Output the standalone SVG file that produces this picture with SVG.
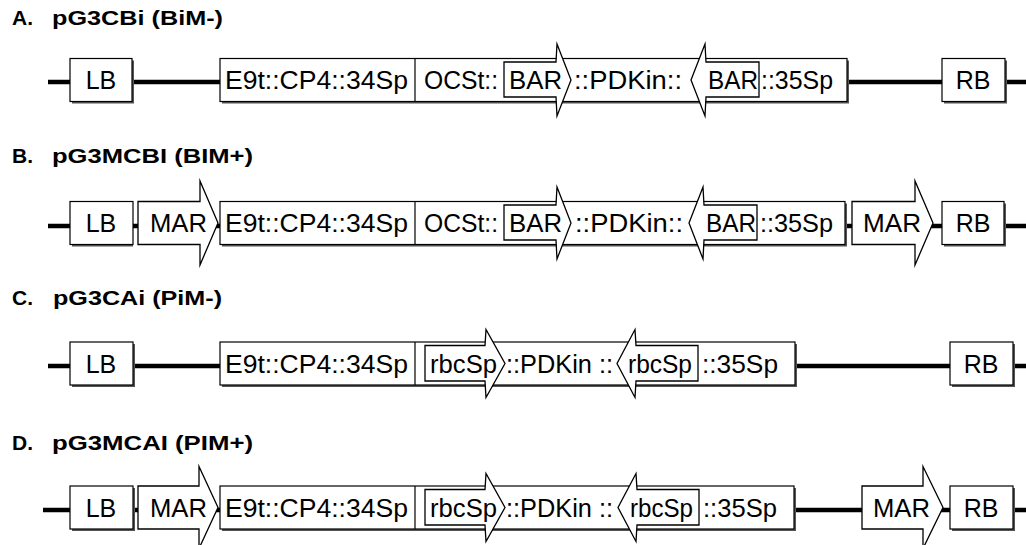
<svg xmlns="http://www.w3.org/2000/svg" width="1026" height="545" viewBox="0 0 1026 545">
<style>
.bg{fill:#fff}
.box{fill:#fff;stroke:#000;stroke-width:1.2}
.sh{fill:#555}
.ln{stroke:#000;stroke-width:4.5;fill:none}
.div{stroke:#000;stroke-width:1.2}
.arr{fill:#fff;stroke:#000;stroke-width:1.3;stroke-linejoin:miter;stroke-miterlimit:20}
.t{font-family:"Liberation Sans",Arial,sans-serif;font-size:25px;fill:#000}
.m{text-anchor:middle}
.ti{font-family:"Liberation Sans",Arial,sans-serif;font-size:21px;font-weight:bold;fill:#000}
</style>
<rect class="bg" x="0" y="0" width="1026" height="545"/>

<!-- Titles -->
<g id="title-A"><text class="ti" x="12" y="25">A.</text><text class="ti" x="52" y="25" textLength="171" lengthAdjust="spacingAndGlyphs">pG3CBi (BiM-)</text></g>
<g id="title-B"><text class="ti" x="12" y="163">B.</text><text class="ti" x="52" y="163" textLength="201" lengthAdjust="spacingAndGlyphs">pG3MCBI (BIM+)</text></g>
<g id="title-C"><text class="ti" x="12" y="305">C.</text><text class="ti" x="53" y="305" textLength="169" lengthAdjust="spacingAndGlyphs">pG3CAi (PiM-)</text></g>
<g id="title-D"><text class="ti" x="12" y="450">D.</text><text class="ti" x="52" y="450" textLength="201" lengthAdjust="spacingAndGlyphs">pG3MCAI (PIM+)</text></g>

<!-- Connectors (backbone lines) -->
<g id="connectors">
<line class="ln" x1="48" y1="82" x2="1026" y2="82"/>
<line class="ln" x1="48" y1="226" x2="1026" y2="226"/>
<line class="ln" x1="48" y1="366" x2="1026" y2="366"/>
<line class="ln" x1="43" y1="510" x2="1026" y2="510"/>
</g>

<!-- Row A -->
<g id="A-LB"><rect class="sh" x="72" y="60.5" width="62" height="43"/><rect class="box" x="70" y="58.5" width="62" height="43"/><text class="t m" x="101" y="89">LB</text></g>
<g id="A-cassette">
<rect class="sh" x="222" y="60.5" width="627" height="43"/>
<rect class="box" x="220" y="58.5" width="627" height="43"/>
<line class="div" x1="415" y1="58.5" x2="415" y2="101.5"/>
<text class="t" x="225" y="89" textLength="183" lengthAdjust="spacingAndGlyphs">E9t::CP4::34Sp</text>
<text class="t" x="424" y="89" textLength="74" lengthAdjust="spacingAndGlyphs">OCSt::</text>
<polygon class="arr" points="504,62 556,62 557,44 571,80 557,116 556,97 504,97"/>
<text class="t" x="509" y="89" textLength="53" lengthAdjust="spacingAndGlyphs">BAR</text>
<text class="t" x="574" y="89" textLength="108" lengthAdjust="spacingAndGlyphs">::PDKin::</text>
<polygon class="arr" points="759,62 706,62 705,44 691,80 705,116 706,97 759,97"/>
<text class="t" x="708" y="89" textLength="50" lengthAdjust="spacingAndGlyphs">BAR</text>
<text class="t" x="761" y="89" textLength="72" lengthAdjust="spacingAndGlyphs">::35Sp</text>
</g>
<g id="A-RB"><rect class="sh" x="944" y="60.5" width="63" height="43"/><rect class="box" x="942" y="58.5" width="63" height="43"/><text class="t m" x="973" y="89">RB</text></g>

<!-- Row B -->
<g id="B-LB"><rect class="sh" x="72" y="203.5" width="61" height="43"/><rect class="box" x="70" y="201.5" width="63" height="43"/><text class="t m" x="101" y="232">LB</text></g>
<g id="B-MAR1"><polygon class="arr" points="138,201.5 200,201.5 200,181 218,223 200,265 200,244.5 138,244.5"/><text class="t" x="150" y="232" textLength="57" lengthAdjust="spacingAndGlyphs">MAR</text></g>
<g id="B-cassette">
<rect class="sh" x="222" y="203.5" width="625" height="43"/>
<rect class="box" x="220" y="201.5" width="625" height="43"/>
<line class="div" x1="415" y1="201.5" x2="415" y2="244.5"/>
<text class="t" x="225" y="232" textLength="183" lengthAdjust="spacingAndGlyphs">E9t::CP4::34Sp</text>
<text class="t" x="424" y="232" textLength="74" lengthAdjust="spacingAndGlyphs">OCSt::</text>
<polygon class="arr" points="504,205 556,205 557,187 571,223 557,259 556,240 504,240"/>
<text class="t" x="509" y="232" textLength="53" lengthAdjust="spacingAndGlyphs">BAR</text>
<text class="t" x="575" y="232" textLength="108" lengthAdjust="spacingAndGlyphs">::PDKin::</text>
<polygon class="arr" points="757,205 704,205 703,187 689,223 703,259 704,240 757,240"/>
<text class="t" x="706" y="232" textLength="50" lengthAdjust="spacingAndGlyphs">BAR</text>
<text class="t" x="760" y="232" textLength="73" lengthAdjust="spacingAndGlyphs">::35Sp</text>
</g>
<g id="B-MAR2"><polygon class="arr" points="852,201.5 915,201.5 915,181 933,223 915,265 915,244.5 852,244.5"/><text class="t" x="863" y="232" textLength="58" lengthAdjust="spacingAndGlyphs">MAR</text></g>
<g id="B-RB"><rect class="sh" x="944" y="203.5" width="62" height="43"/><rect class="box" x="942" y="201.5" width="62" height="43"/><text class="t m" x="973" y="232">RB</text></g>

<!-- Row C -->
<g id="C-LB"><rect class="sh" x="72" y="344" width="63" height="43"/><rect class="box" x="70" y="342" width="63" height="43"/><text class="t m" x="101" y="372.5">LB</text></g>
<g id="C-cassette">
<rect class="sh" x="222" y="344" width="575" height="43"/>
<rect class="box" x="220" y="342" width="575" height="43"/>
<line class="div" x1="415" y1="342" x2="415" y2="385"/>
<text class="t" x="225" y="372.5" textLength="183" lengthAdjust="spacingAndGlyphs">E9t::CP4::34Sp</text>
<polygon class="arr" points="425,345.5 485,345.5 486,329.5 505,363.5 486,397.5 485,381 425,381"/>
<text class="t" x="430" y="372.5" textLength="67" lengthAdjust="spacingAndGlyphs">rbcSp</text>
<text class="t" x="506" y="372.5" textLength="107" lengthAdjust="spacingAndGlyphs">::PDKin ::</text>
<polygon class="arr" points="698,345.5 636,345.5 635,329.5 617,363.5 635,397.5 636,381 698,381"/>
<text class="t" x="628" y="372.5" textLength="64" lengthAdjust="spacingAndGlyphs">rbcSp</text>
<text class="t" x="702" y="372.5" textLength="76" lengthAdjust="spacingAndGlyphs">::35Sp</text>
</g>
<g id="C-RB"><rect class="sh" x="952" y="344" width="63" height="43"/><rect class="box" x="950" y="342" width="63" height="43"/><text class="t m" x="981" y="372.5">RB</text></g>

<!-- Row D -->
<g id="D-LB"><rect class="sh" x="72" y="488" width="63" height="43"/><rect class="box" x="70" y="486" width="63" height="43"/><text class="t m" x="101" y="516.5">LB</text></g>
<g id="D-MAR1"><polygon class="arr" points="138,486 199,486 199,466.5 218,507.5 199,548.5 199,529 138,529"/><text class="t" x="150" y="516.5" textLength="57" lengthAdjust="spacingAndGlyphs">MAR</text></g>
<g id="D-cassette">
<rect class="sh" x="222" y="488" width="574" height="43"/>
<rect class="box" x="220" y="486" width="574" height="43"/>
<line class="div" x1="415" y1="486" x2="415" y2="529"/>
<text class="t" x="225" y="516.5" textLength="183" lengthAdjust="spacingAndGlyphs">E9t::CP4::34Sp</text>
<polygon class="arr" points="425,489.5 485,489.5 486,473.5 505,507.5 486,541.5 485,525 425,525"/>
<text class="t" x="430" y="516.5" textLength="67" lengthAdjust="spacingAndGlyphs">rbcSp</text>
<text class="t" x="506" y="516.5" textLength="107" lengthAdjust="spacingAndGlyphs">::PDKin ::</text>
<polygon class="arr" points="699,489.5 637,489.5 636,473.5 618,507.5 636,541.5 637,525 699,525"/>
<text class="t" x="630" y="516.5" textLength="63" lengthAdjust="spacingAndGlyphs">rbcSp</text>
<text class="t" x="703" y="516.5" textLength="74" lengthAdjust="spacingAndGlyphs">::35Sp</text>
</g>
<g id="D-MAR2"><polygon class="arr" points="862,486 923,486 923,466.5 943,507.5 923,548.5 923,529 862,529"/><text class="t" x="873" y="516.5" textLength="57" lengthAdjust="spacingAndGlyphs">MAR</text></g>
<g id="D-RB"><rect class="sh" x="952" y="488" width="63" height="43"/><rect class="box" x="950" y="486" width="63" height="43"/><text class="t m" x="981" y="516.5">RB</text></g>
</svg>
